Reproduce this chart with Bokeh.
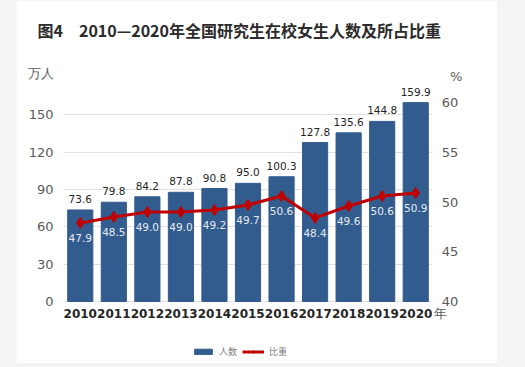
from bokeh.plotting import figure
from bokeh.models import (Range1d, LinearAxis, FixedTicker, LabelSet, Legend, LegendItem,
                          ColumnDataSource, Spacer, Title)
from bokeh.layouts import row
from bokeh.embed import file_html
from bokeh.resources import INLINE
from bokeh.core.properties import value

years = ["2010", "2011", "2012", "2013", "2014", "2015", "2016", "2017", "2018", "2019", "2020"]
counts = [73.6, 79.8, 84.2, 87.8, 90.8, 95.0, 100.3, 127.8, 135.6, 144.8, 159.9]
shares = [47.9, 48.5, 49.0, 49.0, 49.2, 49.7, 50.6, 48.4, 49.6, 50.6, 50.9]
left_ticks = [0, 30, 60, 90, 120, 150]
right_ticks = [40, 45, 50, 55, 60]
title_text = "图4　2010—2020年全国研究生在校女生人数及所占比重"
left_unit = "万人"
right_unit = "%"
x_unit = "年"

FONT = "DejaVu Sans"
CJK = "Noto Sans CJK SC"
GRAY = "#f4f4f4"
NBSP = "\u00a0"

src = ColumnDataSource(dict(
    year=years, count=counts, share=shares,
    count_lbl=[f"{v:.1f}" for v in counts],
    share_lbl=[f"{v:.1f}" for v in shares],
))

# visible value window: left 0..160 <-> right 40..60, frame extended above/below for labels
p = figure(x_range=years, width=481, height=363, output_backend="svg",
           toolbar_location=None, min_border_left=47, min_border_right=65,
           min_border_top=50, min_border_bottom=0)
p.y_range = Range1d(-49.85, 201.8)
p.x_range.range_padding = 0
p.extra_y_ranges = {"pct": Range1d(33.77, 65.23)}
p.border_fill_color = "white"
p.background_fill_color = "white"
p.outline_line_color = None

bars = p.vbar(x="year", top="count", bottom=0, width=0.75, source=src, color="#335c8e")
line = p.line(x="year", y="share", source=src, y_range_name="pct", color="#c00000", line_width=3)
marks = p.scatter(x="year", y="share", source=src, y_range_name="pct", marker="diamond",
                  size=11, color="#c00000")

p.add_layout(LabelSet(x="year", y="count", text="count_lbl", source=src, y_offset=11,
                      text_align="center", text_baseline="middle", text_font_size="10.5px",
                      text_color="#1f1f1f", text_font=value(FONT)))
p.add_layout(LabelSet(x="year", y="share", text="share_lbl", source=src, y_range_name="pct",
                      y_offset=-15, text_align="center", text_baseline="middle",
                      text_font_size="10.5px", text_color="#e4ebf4", text_font=value(FONT)))
# category labels under the bars
p.add_layout(LabelSet(x="year", y=0, text="year", source=src, y_offset=-12,
                      text_align="center", text_baseline="middle", text_font_size="12px",
                      text_font_style=value("bold"), text_color="#262626",
                      text_font=value(FONT)))

# left axis (with unit label at the top)
unit_tick_left = 183.3
p.yaxis.ticker = FixedTicker(ticks=left_ticks + [unit_tick_left])
p.yaxis.major_label_overrides = {unit_tick_left: left_unit}
p.yaxis.axis_line_color = None
p.yaxis.major_tick_line_color = None
p.yaxis.minor_tick_line_color = None
p.yaxis.major_tick_out = 0
p.yaxis.major_tick_in = 0
p.yaxis.minor_tick_out = 0
p.yaxis.major_label_text_font = FONT
p.yaxis.major_label_text_font_size = "13px"
p.yaxis.major_label_text_color = "#595959"
p.yaxis.major_label_standoff = 10

# right axis (with % at the top and 年 at the bottom)
unit_tick_right = 62.6
year_tick_right = 38.8
ra = LinearAxis(y_range_name="pct",
                ticker=FixedTicker(ticks=[year_tick_right] + right_ticks + [unit_tick_right]))
overrides = {t: NBSP * 2 + str(t) for t in right_ticks}
overrides[unit_tick_right] = NBSP * 4 + right_unit
overrides[year_tick_right] = x_unit
ra.major_label_overrides = overrides
ra.axis_line_color = None
ra.major_tick_line_color = None
ra.minor_tick_line_color = None
ra.major_tick_out = 0
ra.major_tick_in = 0
ra.minor_tick_out = 0
ra.major_label_text_font = FONT
ra.major_label_text_font_size = "13px"
ra.major_label_text_color = "#595959"
ra.major_label_standoff = 1
p.add_layout(ra, "right")

p.xaxis.visible = False
p.xgrid.grid_line_color = None
p.ygrid.ticker = FixedTicker(ticks=left_ticks)
p.ygrid.grid_line_color = "#e0e0e0"
p.ygrid.grid_line_width = 1

p.title = Title(text=title_text, align="left", offset=-26, standoff=17,
                text_font=CJK, text_font_style="bold", text_font_size="16px",
                text_color="#2b2b2b")

legend = Legend(items=[LegendItem(label="人数", renderers=[bars]),
                       LegendItem(label="比重", renderers=[line, marks])],
                orientation="horizontal", location=(129, 5),
                glyph_width=22, glyph_height=7, label_width=0, label_height=10,
                label_text_font=CJK,
                label_text_font_size="9px", label_text_color="#7f7f7f",
                label_standoff=5, spacing=5, padding=0, margin=0,
                border_line_color=None, background_fill_alpha=0)
p.add_layout(legend, "center")

left_strip = Spacer(width=16, height=367, styles={"background-color": GRAY})
right_strip = Spacer(width=28, height=367, styles={"background-color": GRAY})
layout = row(left_strip, p, right_strip, styles={"background-color": GRAY})

open("out.html", "w").write(file_html(layout, INLINE))
